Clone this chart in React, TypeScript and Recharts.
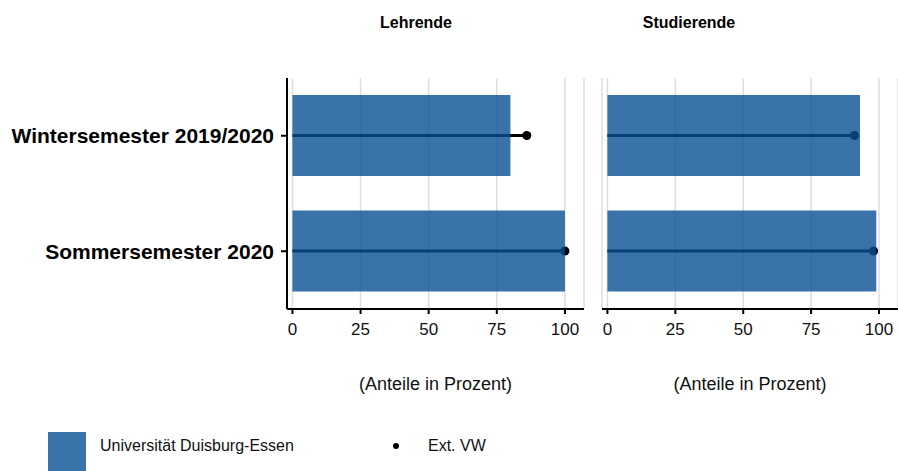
import React from "react";
import { ComposedChart, Bar, XAxis, YAxis, CartesianGrid } from "recharts";

const categories = ["Wintersemester 2019/2020", "Sommersemester 2020"];
const panelTitles = ["Lehrende", "Studierende"];
const uniLehrende = [80, 100];
const extLehrende = [86, 100];
const uniStudierende = [93, 99];
const extStudierende = [91, 98];
const xTicks = [0, 25, 50, 75, 100];
const axisTitle = "(Anteile in Prozent)";
const legendUni = "Universität Duisburg-Essen";
const legendExt = "Ext. VW";

const FONT = '"Liberation Sans", Arial, sans-serif';
const BAR_BASE = "#094F95";
const BAR_SOLID = "#3A72AA";

const makeData = (uni: number[], ext: number[]) =>
  categories.map((c, i) => ({ cat: c, uni: uni[i], ext: ext[i] }));

const ExtShape = (props: any) => {
  const { x, y, width, height } = props;
  const cy = y + height / 2;
  return (
    <g>
      <line x1={x} x2={x + width} y1={cy} y2={cy} stroke="#000" strokeWidth={3} />
      <circle cx={x + width} cy={cy} r={4.5} fill="#000" />
    </g>
  );
};

const Panel = ({
  uni,
  ext,
  showY,
  width,
}: {
  uni: number[];
  ext: number[];
  showY: boolean;
  width: number;
}) => {
  const data = makeData(uni, ext);
  return (
    <ComposedChart
      width={width}
      height={400}
      data={data}
      layout="vertical"
      margin={{ top: 78, right: showY ? 16 : 0, bottom: 6, left: showY ? 0 : 12 }}
      barGap={-81}
      barCategoryGap={0}
    >
      <CartesianGrid horizontal={false} vertical stroke="#dedede" strokeWidth={1.5} />
      <XAxis
        type="number"
        dataKey="uni"
        domain={[-2, 107]}
        ticks={xTicks}
        allowDataOverflow
        axisLine={{ stroke: "#000", strokeWidth: 2 }}
        tickLine={{ stroke: "#000", strokeWidth: 2 }}
        tickSize={5}
        tickMargin={9}
        height={85}
        tick={{ fill: "#111", fontSize: 17, fontFamily: FONT }}
        label={{
          value: axisTitle,
          position: "insideBottom",
          offset: 4,
          style: { fill: "#111", fontSize: 18, fontFamily: FONT },
        }}
      />
      <YAxis
        type="category"
        dataKey="cat"
        width={showY ? 287 : 0}
        hide={!showY}
        axisLine={{ stroke: "#000", strokeWidth: 2 }}
        tickLine={{ stroke: "#000", strokeWidth: 2 }}
        tickSize={6}
        tickMargin={7}
        tick={{ fill: "#000", fontSize: 21, fontWeight: "bold", fontFamily: FONT }}
      />
      <Bar dataKey="ext" barSize={81} shape={ExtShape} isAnimationActive={false} />
      <Bar dataKey="uni" barSize={81} fill={BAR_BASE} fillOpacity={0.8} isAnimationActive={false} />
    </ComposedChart>
  );
};

export default function App() {
  return (
    <div
      style={{
        position: "absolute",
        left: 0,
        top: 0,
        width: 898,
        height: 471,
        overflow: "hidden",
        background: "#fff",
        fontFamily: FONT,
      }}
    >
      <div style={{ position: "absolute", left: 0, top: 0 }}>
        <Panel uni={uniLehrende} ext={extLehrende} showY width={600} />
      </div>
      <div style={{ position: "absolute", left: 590, top: 0 }}>
        <Panel uni={uniStudierende} ext={extStudierende} showY={false} width={308} />
      </div>
      {panelTitles.map((t, i) => (
        <div
          key={t}
          style={{
            position: "absolute",
            left: i === 0 ? 316 : 589,
            width: 200,
            top: 13,
            textAlign: "center",
            fontWeight: "bold",
            fontSize: 16,
            lineHeight: "20px",
            color: "#000",
          }}
        >
          {t}
        </div>
      ))}
      <div
        style={{
          position: "absolute",
          left: 48,
          top: 432,
          width: 38,
          height: 39,
          background: BAR_SOLID,
        }}
      />
      <div
        style={{
          position: "absolute",
          left: 100,
          top: 436,
          fontSize: 16,
          lineHeight: "20px",
          color: "#111",
        }}
      >
        {legendUni}
      </div>
      <div
        style={{
          position: "absolute",
          left: 393,
          top: 443,
          width: 6,
          height: 6,
          borderRadius: 3,
          background: "#000",
        }}
      />
      <div
        style={{
          position: "absolute",
          left: 428,
          top: 436,
          fontSize: 16,
          lineHeight: "20px",
          color: "#111",
        }}
      >
        {legendExt}
      </div>
    </div>
  );
}
